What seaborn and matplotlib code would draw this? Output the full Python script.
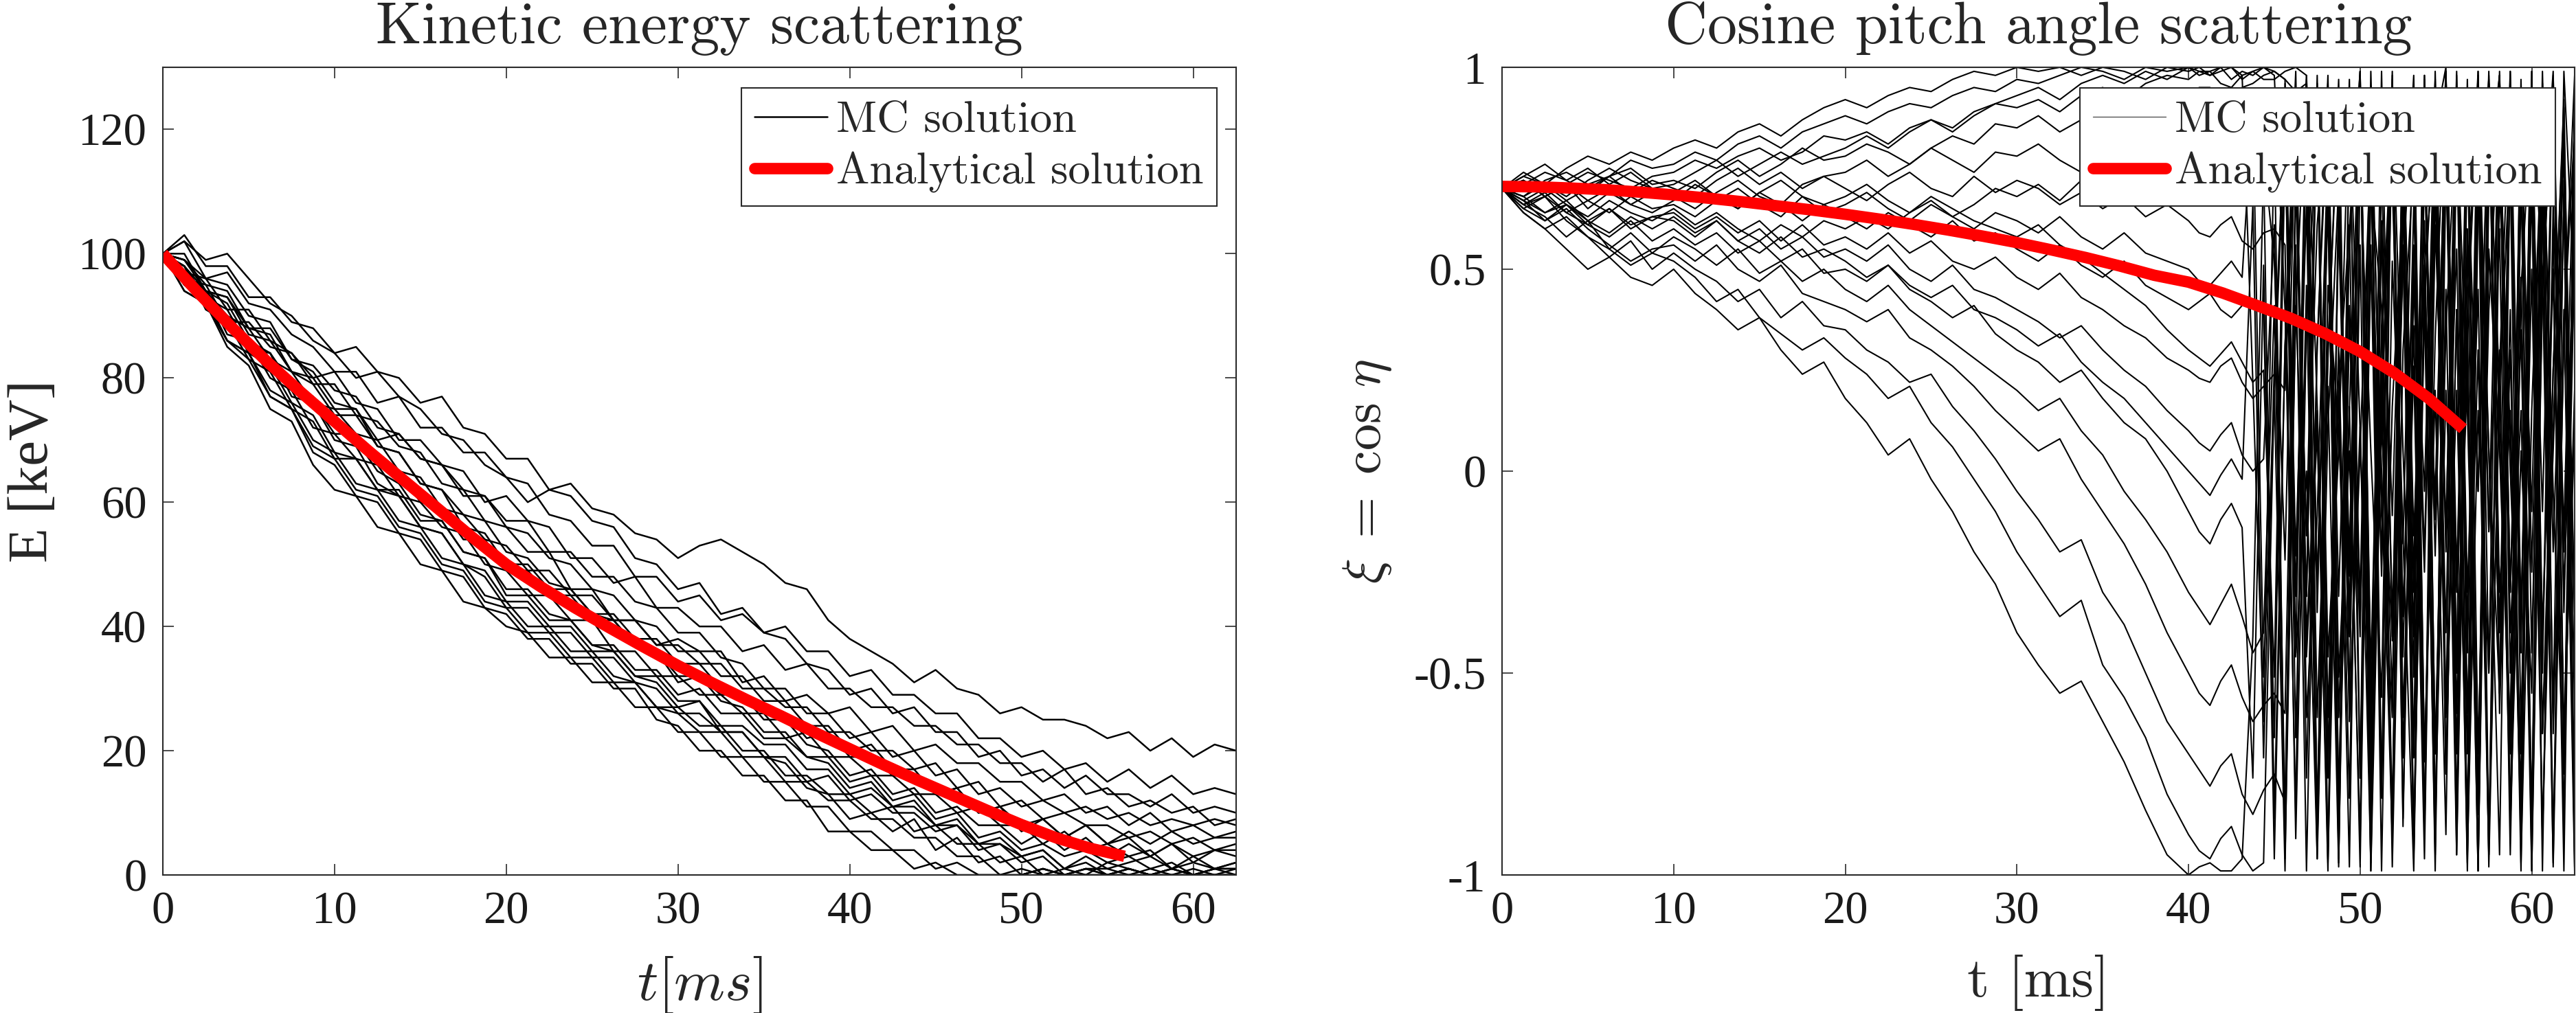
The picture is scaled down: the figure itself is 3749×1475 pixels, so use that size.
import numpy as np
import pandas as pd
import matplotlib
matplotlib.use("Agg")
import matplotlib.pyplot as plt
import seaborn as sns
from matplotlib.lines import Line2D

# time samples of the MC trajectories [ms]
t_grid_e = [0, 1.25, 2.5, 3.75, 5, 6.25, 7.5, 8.75, 10, 11.25, 12.5, 13.75, 15, 16.25,
            17.5, 18.75, 20, 21.25, 22.5, 23.75, 25, 26.25, 27.5, 28.75, 30, 31.25, 32.5,
            33.75, 35, 36.25, 37.5, 38.75, 40, 41.25, 42.5, 43.75, 45, 46.25, 47.5, 48.75,
            50, 51.25, 52.5, 53.75, 55, 56.25, 57.5, 58.75, 60, 61.25, 62.5]
t_grid_xi = [0, 1.25, 2.5, 3.75, 5, 6.25, 7.5, 8.75, 10, 11.25, 12.5, 13.75, 15, 16.25,
             17.5, 18.75, 20, 21.25, 22.5, 23.75, 25, 26.25, 27.5, 28.75, 30, 31.25, 32.5,
             33.75, 35, 36.25, 37.5, 38.75,
             40, 40.625, 41.25, 41.875, 42.5, 43.125, 43.75, 44.375, 45, 45.625, 46.25,
             46.875, 47.5, 48.125, 48.75, 49.375, 50, 50.625, 51.25, 51.875, 52.5, 53.125,
             53.75, 54.375, 55, 55.625, 56.25, 56.875, 57.5, 58.125, 58.75, 59.375, 60,
             60.625, 61.25, 61.875, 62.5]

# analytical solutions
t_exact = [0, 2, 4, 6, 8, 10, 12, 14, 16, 18, 20, 22, 24, 26, 28, 30, 32, 34, 36, 38,
           40, 42, 44, 46, 48, 50, 52, 54, 56]
energy_exact = [100, 93.9, 88.2, 82.8, 77.8, 73.0, 68.2, 63.6, 59.0, 54.4, 50.0, 46.4,
                43.0, 39.8, 36.7, 33.7, 30.9, 28.2, 25.6, 22.9, 20.3, 17.7, 15.2, 12.8,
                10.4, 8.1, 6.0, 4.3, 3.0]
xi_exact = [0.705, 0.704, 0.701, 0.697, 0.691, 0.684, 0.676, 0.667, 0.657, 0.647, 0.636,
            0.624, 0.611, 0.597, 0.582, 0.566, 0.548, 0.529, 0.508, 0.485, 0.468, 0.441,
            0.410, 0.378, 0.340, 0.296, 0.243, 0.180, 0.105]

# MC kinetic energy trajectories [keV]
e_path_01 = [100, 102, 99, 100, 96, 92, 90, 86, 84, 80, 81, 77, 75, 71, 70, 66, 64, 60, 62, 63, 59, 58, 55, 54, 51, 53, 54, 52, 50, 47, 46, 41, 38, 36, 34, 31, 33, 30, 29, 26, 27, 25, 25, 24, 22, 23, 20, 22, 19, 21, 20]
e_path_02 = [100, 99, 96, 97, 92, 91, 87, 85, 81, 81, 76, 77, 72, 72, 68, 68, 64, 63, 58, 57, 53, 53, 48, 48, 44, 45, 41, 42, 39, 40, 36, 36, 32, 33, 29, 29, 26, 26, 22, 22, 19, 20, 17, 18, 15, 17, 14, 16, 13, 14, 13]
e_path_03 = [100, 97, 96, 91, 91, 86, 84, 80, 81, 76, 75, 70, 70, 66, 65, 60, 61, 57, 56, 51, 51, 47, 48, 43, 43, 40, 40, 36, 37, 33, 34, 30, 30, 27, 27, 24, 24, 21, 21, 18, 18, 15, 17, 13, 14, 11, 12, 10, 11, 8, 9]
e_path_04 = [100, 103, 98, 98, 93, 93, 89, 88, 84, 85, 81, 80, 76, 77, 72, 71, 67, 67, 62, 61, 57, 56, 51, 50, 46, 47, 42, 43, 39, 38, 34, 33, 29, 30, 26, 27, 23, 23, 19, 20, 16, 17, 14, 16, 13, 13, 11, 13, 10, 11, 10]
e_path_05 = [100, 96, 95, 89, 89, 85, 84, 79, 79, 74, 73, 69, 68, 63, 62, 57, 56, 52, 52, 46, 46, 41, 41, 37, 38, 36, 36, 31, 32, 28, 29, 26, 27, 23, 24, 20, 21, 18, 18, 15, 15, 12, 13, 10, 11, 8, 10, 7, 8, 6, 7]
e_path_06 = [100, 99, 95, 94, 88, 87, 81, 80, 75, 75, 70, 71, 67, 66, 62, 61, 57, 57, 52, 52, 48, 48, 44, 43, 39, 39, 35, 34, 30, 30, 26, 26, 22, 23, 19, 20, 16, 17, 13, 14, 11, 12, 10, 11, 9, 10, 8, 9, 8, 9, 8]
e_path_07 = [100, 95, 94, 90, 88, 83, 81, 76, 75, 71, 70, 65, 64, 59, 58, 54, 53, 49, 49, 45, 45, 41, 41, 37, 37, 34, 34, 30, 30, 27, 27, 23, 23, 20, 20, 17, 18, 14, 15, 11, 12, 9, 10, 8, 8, 6, 7, 5, 6, 4, 5]
e_path_08 = [100, 98, 93, 91, 85, 84, 78, 76, 71, 71, 66, 65, 60, 59, 54, 54, 49, 49, 45, 45, 41, 41, 37, 36, 32, 32, 29, 29, 26, 26, 22, 23, 19, 19, 16, 16, 13, 14, 10, 11, 8, 9, 6, 8, 5, 6, 3, 5, 2, 4, 3]
e_path_09 = [100, 97, 94, 87, 86, 80, 78, 72, 71, 67, 66, 61, 60, 56, 55, 50, 49, 45, 45, 41, 41, 36, 36, 32, 32, 29, 29, 26, 26, 22, 23, 19, 19, 16, 16, 13, 13, 10, 11, 8, 8, 5, 7, 4, 5, 3, 4, 1, 3, 1, 2]
e_path_10 = [100, 97, 92, 90, 85, 84, 79, 77, 72, 70, 65, 63, 58, 57, 52, 51, 45, 45, 41, 41, 37, 37, 33, 33, 29, 30, 26, 26, 22, 22, 19, 19, 15, 16, 12, 13, 9, 10, 6, 7, 4, 5, 3, 4, 2, 3, 1, 2, 0, 1, 1]
e_path_11 = [100, 98, 91, 89, 83, 81, 75, 73, 67, 67, 62, 62, 57, 57, 52, 51, 46, 46, 42, 41, 37, 36, 32, 31, 27, 28, 24, 24, 21, 21, 17, 17, 13, 14, 11, 11, 8, 8, 5, 6, 3, 4, 1, 2, 0, 1, 0, 0, 1, 0, 0]
e_path_12 = [100, 99, 94, 92, 86, 84, 77, 76, 70, 69, 63, 61, 56, 55, 50, 48, 43, 43, 39, 39, 35, 35, 31, 30, 26, 26, 23, 23, 19, 19, 15, 16, 12, 13, 10, 10, 7, 8, 4, 5, 2, 3, 0, 1, 0, 1, 0, 0, 0, 1, 0]
e_path_13 = [100, 94, 92, 86, 83, 77, 75, 69, 67, 62, 61, 56, 55, 50, 49, 44, 43, 39, 39, 35, 35, 31, 31, 27, 27, 24, 24, 20, 20, 16, 16, 13, 13, 10, 11, 7, 8, 5, 5, 2, 3, 0, 1, 0, 2, 1, 0, 1, 0, 0, 1]
e_path_14 = [100, 98, 92, 90, 84, 82, 76, 74, 68, 67, 62, 61, 56, 55, 50, 49, 44, 44, 40, 40, 36, 36, 32, 32, 28, 28, 23, 23, 19, 18, 14, 13, 9, 10, 7, 9, 4, 6, 2, 3, 0, 1, 0, 1, 0, 0, 0, 1, 0, 0, 0]
e_path_15 = [100, 95, 92, 85, 82, 75, 73, 66, 62, 61, 56, 55, 50, 49, 44, 43, 40, 39, 35, 35, 31, 31, 27, 27, 23, 23, 19, 19, 15, 15, 11, 11, 7, 7, 4, 4, 1, 2, 0, 0, 0, 1, 0, 0, 0, 0, 1, 0, 0, 0, 0]
e_path_16 = [100, 100, 94, 93, 87, 86, 81, 79, 74, 74, 69, 68, 63, 62, 58, 57, 52, 51, 47, 46, 42, 41, 37, 36, 31, 32, 28, 27, 23, 23, 19, 18, 14, 15, 11, 12, 8, 9, 5, 5, 3, 4, 1, 3, 1, 2, 3, 1, 2, 1, 2]
e_path_17 = [100, 102, 96, 95, 90, 89, 83, 81, 76, 75, 69, 68, 63, 62, 56, 55, 50, 50, 46, 46, 42, 42, 38, 38, 34, 34, 30, 29, 25, 25, 21, 20, 16, 17, 13, 14, 10, 11, 8, 8, 5, 7, 4, 6, 3, 5, 3, 5, 3, 4, 4]
e_path_18 = [100, 94, 92, 86, 84, 78, 76, 70, 68, 63, 62, 57, 56, 51, 50, 45, 44, 40, 40, 36, 36, 32, 31, 27, 26, 23, 23, 19, 19, 15, 15, 12, 12, 9, 9, 6, 6, 3, 3, 0, 1, 0, 0, 1, 1, 0, 0, 1, 0, 0, 0]
e_path_19 = [100, 98, 94, 93, 88, 88, 83, 82, 78, 77, 72, 71, 67, 66, 61, 61, 56, 55, 51, 50, 46, 45, 41, 40, 36, 36, 32, 32, 28, 28, 24, 24, 20, 21, 17, 17, 13, 14, 10, 11, 7, 9, 6, 8, 5, 7, 5, 7, 5, 6, 6]
e_path_20 = [100, 95, 93, 86, 84, 77, 75, 68, 66, 61, 60, 55, 54, 49, 48, 43, 42, 38, 38, 34, 34, 30, 30, 25, 24, 20, 20, 16, 16, 12, 12, 7, 7, 4, 4, 1, 2, 0, 0, 0, 0, 1, 0, 0, 0, 1, 0, 0, 0, 1, 1]

# MC cosine pitch angle trajectories
xi_path_01 = [.70, .73, .71, .75, .78, .76, .79, .77, .80, .82, .80, .84, .86, .83, .87, .90, .92, .90, .93, .95, .94, .97, .99, .98, 1.00, .99, 1.00, .98, 1.00, .99, .97, 1.00,
              .99, 1.00, .98, .99, 1.00, .97, .99, 1.00, .98, .40, -.85, .95, -.30, .72, -.97, .60, .99, -.55, .12, .93, -.88, .47, -.25, .86, 1.00, -.70, .35, .98, -.92, .20, .80, -.45, .97, -.99, .66, -.15, .90]
xi_path_02 = [.70, .68, .72, .74, .71, .73, .77, .75, .76, .79, .77, .81, .83, .80, .84, .86, .88, .86, .89, .91, .90, .93, .95, .94, .97, .96, .98, 1.00, .99, .97, 1.00, .99,
              1.00, .98, .99, 1.00, .97, .99, .98, 1.00, .99, .97, -.45, .90, -.93, .28, .97, -.62, .05, .82, -.99, .52, -.18, .94, -.72, .33, .99, -.85, .60, -.05, .96, -.40, .75, -.97, .15, .88, -.60, .99, .42]
xi_path_03 = [.70, .72, .69, .71, .74, .72, .70, .73, .74, .77, .75, .78, .80, .77, .79, .83, .82, .84, .81, .85, .87, .84, .88, .91, .90, .92, .89, .93, .95, .92, .96, .98,
              .97, .99, .99, .96, .95, .98, .22, -.62, .85, -.96, .40, .98, -.35, .72, -.82, .15, .95, -.50, .62, -.98, .30, .77, -.88, .99, -.20, .55, -.70, .93, .05, -.95, .80, -.40, .99, -.65, .25, .90, -.85]
xi_path_04 = [.70, .71, .74, .72, .69, .73, .75, .71, .72, .70, .74, .77, .73, .76, .80, .77, .78, .81, .79, .76, .80, .83, .81, .86, .85, .88, .84, .87, .90, .88, .92, .90,
              .93, .95, .95, .93, .92, .95, .96, .98, .99, .97, .94, .96, -.28, .66, -.91, .91, .10, -.72, .99, -.42, .56, -.96, .81, -.12, .95, -.60, .35, -.99, .70, .98, -.30, .48, -.85, .92, -.05, -.75, .86]
xi_path_05 = [.70, .68, .71, .67, .70, .73, .69, .72, .70, .68, .72, .75, .71, .74, .70, .73, .74, .77, .73, .76, .80, .77, .74, .79, .78, .81, .77, .74, .79, .83, .80, .76,
              .80, .83, .84, .80, .78, .81, .82, .79, .52, -.22, .93, -.76, .31, .98, -.61, .16, -.98, .71, .41, -.86, .89, -.30, .62, -.93, .99, -.50, .24, -.80, .96, .10, -.66, .85, -.99, .45, .97, -.35, .70]
xi_path_06 = [.70, .66, .68, .64, .67, .70, .66, .69, .68, .65, .69, .72, .68, .66, .71, .73, .70, .67, .71, .74, .70, .68, .73, .69, .72, .70, .66, .69, .65, .68, .63, .66,
              .62, .59, .58, .61, .63, .57, .55, .59, .60, .56, -.91, .36, .86, -.46, .05, .97, -.76, .51, -.21, .99, -.61, .26, -.96, .71, -.40, .90, .15, -.85, .98, -.55, .40, -.99, .80, -.10, .94, -.70, .55]
xi_path_07 = [.70, .72, .68, .71, .67, .64, .68, .65, .66, .63, .67, .70, .66, .63, .68, .64, .66, .69, .65, .62, .66, .63, .60, .64, .62, .59, .63, .58, .55, .59, .54, .52,
              .50, .47, .46, .49, .52, .48, .91, -.51, .20, -.99, .76, -.16, .61, .96, -.81, .36, -.41, .86, .00, -.91, .66, -.26, .98, -.70, .45, -.95, .82, -.05, .99, -.60, .30, -.88, .92, .50, -.97, .72, -.35]
xi_path_08 = [.70, .73, .76, .72, .75, .71, .74, .70, .69, .72, .68, .65, .69, .66, .62, .66, .63, .60, .64, .61, .58, .62, .57, .59, .55, .52, .56, .51, .48, .52, .46, .43,
              .40, .42, .44, .40, .38, .41, .42, .39, -.66, .81, -.31, .97, -.86, .46, .10, -.56, .93, -.99, .61, -.11, .79, -.71, .41, -.95, .99, -.25, .55, -.82, .88, .20, -.65, .97, -.45, .70, -.98, .35, .85]
xi_path_09 = [.70, .67, .64, .66, .62, .65, .61, .63, .64, .60, .63, .59, .62, .57, .61, .56, .58, .55, .59, .54, .57, .52, .50, .53, .48, .45, .49, .43, .40, .36, .33, .28,
              .25, .23, .22, .26, .28, .22, .18, .21, .24, .20, .86, -.41, .15, -.96, .71, -.21, .99, -.66, .31, .89, -.86, .51, -.05, .94, -.75, .40, -.99, .65, .97, -.30, .15, -.90, .82, -.50, .98, -.20, .60]
xi_path_10 = [.70, .66, .69, .64, .61, .65, .60, .63, .62, .58, .62, .57, .60, .55, .58, .53, .55, .52, .56, .50, .47, .51, .45, .43, .40, .37, .33, .36, .30, .25, .21, .15,
              .10, .07, .05, .09, .12, .04, .00, .03, .61, -.86, .41, -.31, .96, -.71, .20, -.98, .76, .05, -.56, .91, -.36, .56, -.91, .85, -.15, .99, -.60, .30, -.95, .70, .10, -.80, .96, -.40, .50, -.99, .88]
xi_path_11 = [.70, .65, .62, .66, .61, .58, .62, .57, .60, .56, .59, .54, .57, .52, .55, .49, .50, .47, .51, .45, .42, .38, .41, .34, .30, .27, .22, .25, .18, .12, .08, .00,
              -.10, -.15, -.18, -.12, -.08, -.14, -.76, .51, -.96, .31, .86, -.46, .10, -.99, .66, -.26, .96, -.61, .20, -.86, .71, -.41, .98, -.70, .35, .90, -.95, .15, -.50, .99, -.30, .75, -.88, .45, .97, -.65, .10]
xi_path_12 = [.70, .64, .60, .63, .58, .55, .59, .54, .58, .55, .51, .55, .49, .52, .47, .50, .45, .42, .46, .40, .36, .32, .28, .24, .20, .15, .18, .10, .04, -.05, -.12, -.20,
              -.30, -.34, -.38, -.33, -.28, -.36, -.45, -.40, .41, -.91, .76, -.16, .98, -.61, .31, -.81, .56, -.99, .16, .86, -.46, .66, -.21, .95, -.75, .40, -.97, .85, .05, -.55, .99, -.35, .70, -.90, .25, .92, -.60]
xi_path_13 = [.70, .67, .62, .65, .60, .56, .52, .55, .56, .52, .56, .50, .47, .51, .44, .42, .40, .37, .40, .33, .30, .26, .21, .15, .10, .05, .08, -.02, -.10, -.18, -.28, -.40,
              -.50, -.55, -.58, -.52, -.48, -.56, -.62, -.58, -.55, -.60, .71, -.31, .91, -.97, .21, .61, -.76, .99, -.11, -.61, .81, -.95, .46, -.06, .93, -.50, .30, -.99, .75, .98, -.40, .15, -.85, .60, .99, -.70, .20]
xi_path_14 = [.70, .65, .68, .62, .58, .53, .57, .50, .54, .50, .47, .42, .45, .38, .42, .36, .35, .30, .27, .22, .24, .16, .10, .03, -.05, -.12, -.20, -.17, -.30, -.38, -.50, -.62,
              -.70, -.74, -.78, -.73, -.70, -.80, -.85, -.79, -.75, -.82, .56, -.99, .31, .91, -.51, .05, -.91, .76, -.26, .98, -.71, .36, -.86, .61, -.15, .95, -.45, .80, -.98, .25, .99, -.65, .50, -.90, .10, .85, -.35]
xi_path_15 = [.70, .66, .63, .58, .62, .55, .51, .54, .52, .48, .42, .45, .38, .34, .30, .33, .28, .24, .18, .21, .12, .06, -.02, -.10, -.20, -.28, -.36, -.32, -.48, -.56, -.66, -.80,
              -.90, -.94, -.96, -.91, -.88, -.95, -.99, -.97, .21, .86, -.66, .46, -.96, .11, .71, -.36, .96, -.81, .26, -.56, .89, -.16, .51, -.99, .75, -.30, .97, -.70, .40, .92, -.88, .05, -.55, .99, -.20, .65, -.95]
xi_path_16 = [.70, .64, .60, .55, .50, .53, .48, .46, .50, .44, .40, .35, .38, .30, .24, .27, .18, .12, .04, .08, -.02, -.10, -.20, -.28, -.40, -.48, -.55, -.52, -.62, -.72, -.84, -.95,
              -1.00, -.98, -.97, -.99, -.99, -.96, -.41, .76, -.86, .31, .99, -.61, -.11, .81, -.96, .41, -.31, .91, -.76, .16, .66, -.51, .97, -.85, .20, -.45, .88, -.99, .55, .05, -.70, .95, -.25, .75, -.92, .35, .98]
xi_path_17 = [.70, .67, .70, .66, .63, .67, .64, .62, .65, .61, .64, .60, .57, .61, .58, .62, .60, .63, .60, .64, .67, .63, .66, .70, .68, .71, .67, .72, .70, .74, .71, .76,
              .75, .77, .79, .76, .74, .77, .78, .80, .82, .79, .77, .80, -.61, .21, -.98, .86, -.36, .56, -.81, .97, .05, -.66, .76, -.21, .91, -.95, .45, .99, -.50, .30, -.85, .70, -.10, .96, -.65, .40, -.99]
xi_path_18 = [.70, .74, .71, .68, .72, .75, .72, .70, .71, .74, .77, .73, .76, .79, .76, .78, .80, .83, .80, .84, .87, .85, .89, .91, .93, .95, .92, .96, .98, .96, .99, .97,
              1.00, .99, .98, 1.00, 1.00, .98, .99, .97, .97, .99, 1.00, .98, .16, -.76, .61, -.41, .96, -.91, .36, .71, -.16, -.99, .51, .81, -.61, .98, -.30, .45, -.95, .85, .00, -.70, .99, -.45, .60, -.88, .93]
xi_path_19 = [.70, .68, .64, .67, .62, .59, .63, .60, .63, .59, .62, .57, .54, .58, .53, .55, .52, .48, .51, .46, .43, .46, .40, .38, .35, .31, .34, .27, .22, .18, .12, .06,
              .00, -.03, -.06, -.01, .03, -.02, .66, -.71, .26, .91, -.46, .00, -.96, .81, -.31, .56, .99, -.76, .11, -.41, .86, -.91, .40, .97, -.60, .20, -.85, .75, -.15, .98, -.50, .35, -.99, .65, .90, -.30, .50]
xi_path_20 = [.70, .72, .68, .71, .65, .69, .66, .64, .67, .71, .68, .65, .69, .72, .68, .66, .68, .71, .67, .64, .68, .65, .62, .60, .58, .61, .56, .53, .49, .45, .41, .35,
              .30, .28, .26, .29, .32, .27, .22, .25, -.51, .96, -.21, .66, -.86, .31, .91, -.61, .11, -.97, .76, -.36, .51, .98, -.71, .20, -.90, .85, -.40, .99, -.15, .60, -.95, .45, .92, -.65, .05, .80, -.98]

energy_paths = [e_path_01, e_path_02, e_path_03, e_path_04, e_path_05, e_path_06, e_path_07,
                e_path_08, e_path_09, e_path_10, e_path_11, e_path_12, e_path_13, e_path_14,
                e_path_15, e_path_16, e_path_17, e_path_18, e_path_19, e_path_20]
xi_paths = [xi_path_01, xi_path_02, xi_path_03, xi_path_04, xi_path_05, xi_path_06, xi_path_07,
            xi_path_08, xi_path_09, xi_path_10, xi_path_11, xi_path_12, xi_path_13, xi_path_14,
            xi_path_15, xi_path_16, xi_path_17, xi_path_18, xi_path_19, xi_path_20]

e_ticks = [0, 20, 40, 60, 80, 100, 120]
xi_ticks = [-1, -0.5, 0, 0.5, 1]
xi_tick_labels = ["-1", "-0.5", "0", "0.5", "1"]
t_ticks = [0, 10, 20, 30, 40, 50, 60]


def long_form(paths, grid, name):
    rows = []
    for k, p in enumerate(paths):
        if len(p) != len(grid):
            print(f"Warning: path {k} of {name} has {len(p)} values")
        for t, v in zip(grid, p):
            rows.append((k, t, v))
    return pd.DataFrame(rows, columns=["path", "t", name])


df_e = long_form(energy_paths, t_grid_e, "E")
df_xi = long_form(xi_paths, t_grid_xi, "xi")

sns.set_style("ticks")
plt.rcParams["font.family"] = ["Liberation Serif", "DejaVu Serif"]
plt.rcParams["mathtext.fontset"] = "cm"

W, H = 3749, 1475
fig = plt.figure(figsize=(W / 100, H / 100), dpi=100)
ax1 = fig.add_axes([237 / W, 201 / H, 1562 / W, 1176 / H])
ax2 = fig.add_axes([2186 / W, 201 / H, 1561 / W, 1176 / H])

spine_col = "#2b2b2b"
cm_font = "cmr10"
red_lw = 12

# left: kinetic energy
sns.lineplot(data=df_e, x="t", y="E", units="path", estimator=None, sort=False,
             color="black", lw=1.8, ax=ax1, legend=False)
sns.lineplot(x=t_exact, y=energy_exact, color="red", lw=red_lw, ax=ax1,
             solid_capstyle="butt")
ax1.set_xlim(0, 62.5)
ax1.set_ylim(0, 130)
ax1.set_yticks(e_ticks)
ax1.set_xlabel(r"$t[ms]$", fontsize=58)
ax1.set_ylabel("E [keV]", fontsize=60)
ax1.set_title("Kinetic energy scattering", fontsize=60, family=cm_font, pad=25)

# right: cosine pitch angle
sns.lineplot(data=df_xi, x="t", y="xi", units="path", estimator=None, sort=False,
             color="black", lw=1.5, ax=ax2, legend=False)
sns.lineplot(x=t_exact, y=xi_exact, color="red", lw=red_lw, ax=ax2,
             solid_capstyle="butt")
ax2.set_xlim(0, 62.5)
ax2.set_ylim(-1, 1)
ax2.set_yticks(xi_ticks)
ax2.set_yticklabels(xi_tick_labels)
ax2.set_xlabel("t [ms]", fontsize=58, family=cm_font)
ax2.set_ylabel(r"$\xi\;=\;\cos\,\eta$", fontsize=60)
ax2.set_title("Cosine pitch angle scattering", fontsize=60, family=cm_font, pad=25)

legends = []
for ax, mc_col, mc_lw in [(ax1, "black", 1.8), (ax2, "#555555", 1.0)]:
    ax.set_xticks(t_ticks)
    for s in ax.spines.values():
        s.set_visible(True)
        s.set_color(spine_col)
        s.set_linewidth(1.5)
    ax.tick_params(direction="in", length=11.5, width=1.2, top=True, right=True,
                   labelsize=48, pad=17, color=spine_col, labelcolor="#1a1a1a")
    ax.xaxis.set_label_coords(0.5, -0.0986)
    handles = [Line2D([], [], color=mc_col, lw=mc_lw),
               Line2D([], [], color="red", lw=red_lw)]
    leg = ax.legend(handles, ["MC solution", "Analytical solution"], loc="upper right",
                    bbox_to_anchor=(0.982, 0.9745), borderaxespad=0,
                    prop={"family": cm_font, "size": 46}, fancybox=False,
                    framealpha=1, edgecolor=spine_col, handlelength=1.67,
                    handletextpad=0.2, borderpad=0.3, labelspacing=0.25)
    leg.get_frame().set_linewidth(1.5)
    legends.append(leg)

ax1.yaxis.set_label_coords((87 - 237) / 1562, 0.5)
ax2.yaxis.set_label_coords((2028 - 2186) / 1561, 0.5)

# scale texts so that their extents match the reference (pixels)
fig.canvas.draw()
renderer = fig.canvas.get_renderer()


def fit(text, target, vertical=False):
    bb = text.get_window_extent(renderer)
    size = bb.height if vertical else bb.width
    if size > 0:
        text.set_fontsize(text.get_fontsize() * target / size)


fit(ax1.title, 943)
ax2.title.set_fontsize(ax1.title.get_fontsize())
fit(ax1.yaxis.label, 266, vertical=True)
fit(ax2.yaxis.label, 327, vertical=True)
fit(ax1.xaxis.label, 183)
fit(ax2.xaxis.label, 207)
fit(legends[0].get_texts()[1], 535)
leg_size = legends[0].get_texts()[1].get_fontsize()
for leg in legends:
    for txt in leg.get_texts():
        txt.set_fontsize(leg_size)

fig.savefig("out.png", dpi=100)
